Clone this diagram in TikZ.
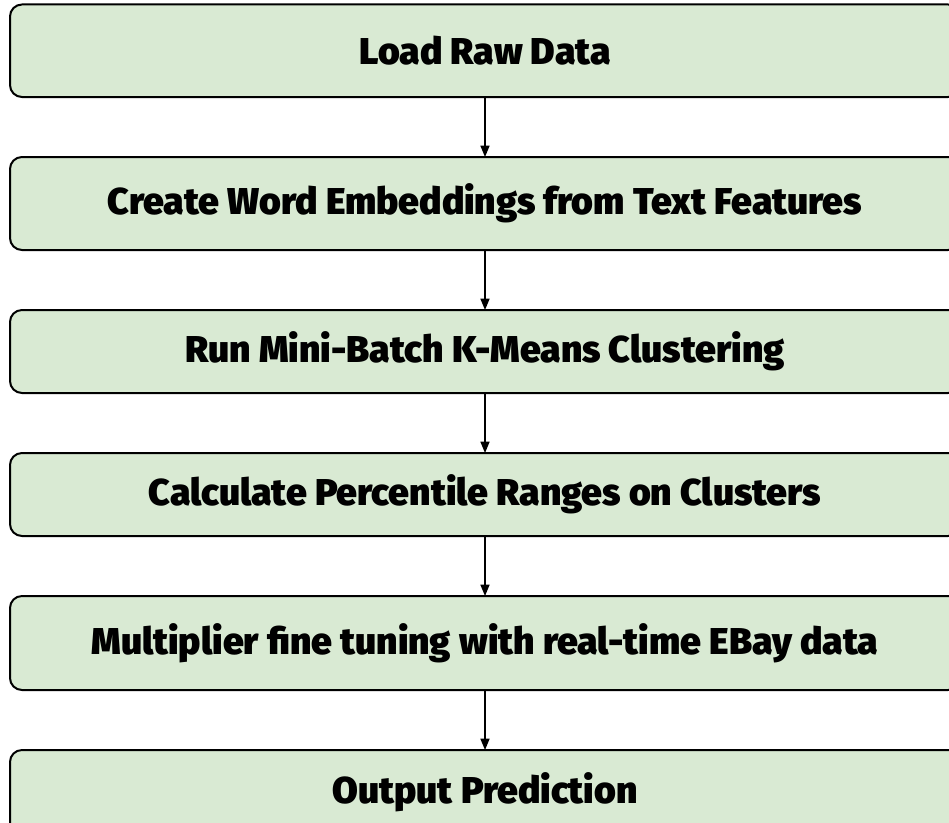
\documentclass[tikz,border=0pt]{standalone}
\usepackage{fontspec}
\setmainfont{Fira Sans Black}
\usetikzlibrary{positioning,arrows.meta}
\definecolor{stagegreen}{HTML}{D9EAD3}
\tikzset{
  font=\fontsize{28}{34}\selectfont
}

\begin{document}
\begin{tikzpicture}[x=0.75pt,y=-0.75pt,node distance=45pt,
  stage/.style={rectangle,draw,line width=1.5pt,rounded corners=9pt,fill=stagegreen,minimum width=712.5pt,inner sep=0pt,outer sep=0pt},
  flow/.style={-{Triangle[length=8.5pt,width=6.75pt]},line width=1.1pt}]
\useasboundingbox (0,0) rectangle (949,823);
\clip (0,0) rectangle (949,823);
\node[stage,minimum height=69.4pt] (load) at (485,50.75) {Load Raw Data};
\node[stage,minimum height=69.75pt] (embed) [below=of load] {Create Word Embeddings from Text Features};
\node[stage,minimum height=62.25pt] (kmeans) [below=of embed] {Run Mini-Batch K-Means Clustering};
\node[stage,minimum height=62.25pt] (ranges) [below=of kmeans] {Calculate Percentile Ranges on Clusters};
\node[stage,minimum height=70.5pt] (tuning) [below=of ranges] {Multiplier fine tuning with real-time EBay data};
\node[stage,minimum height=63pt] (output) [below=of tuning] {Output Prediction};
\path[flow] (load) edge (embed)
            (embed) edge (kmeans)
            (kmeans) edge (ranges)
            (ranges) edge (tuning)
            (tuning) edge (output);
\end{tikzpicture}
\end{document}
